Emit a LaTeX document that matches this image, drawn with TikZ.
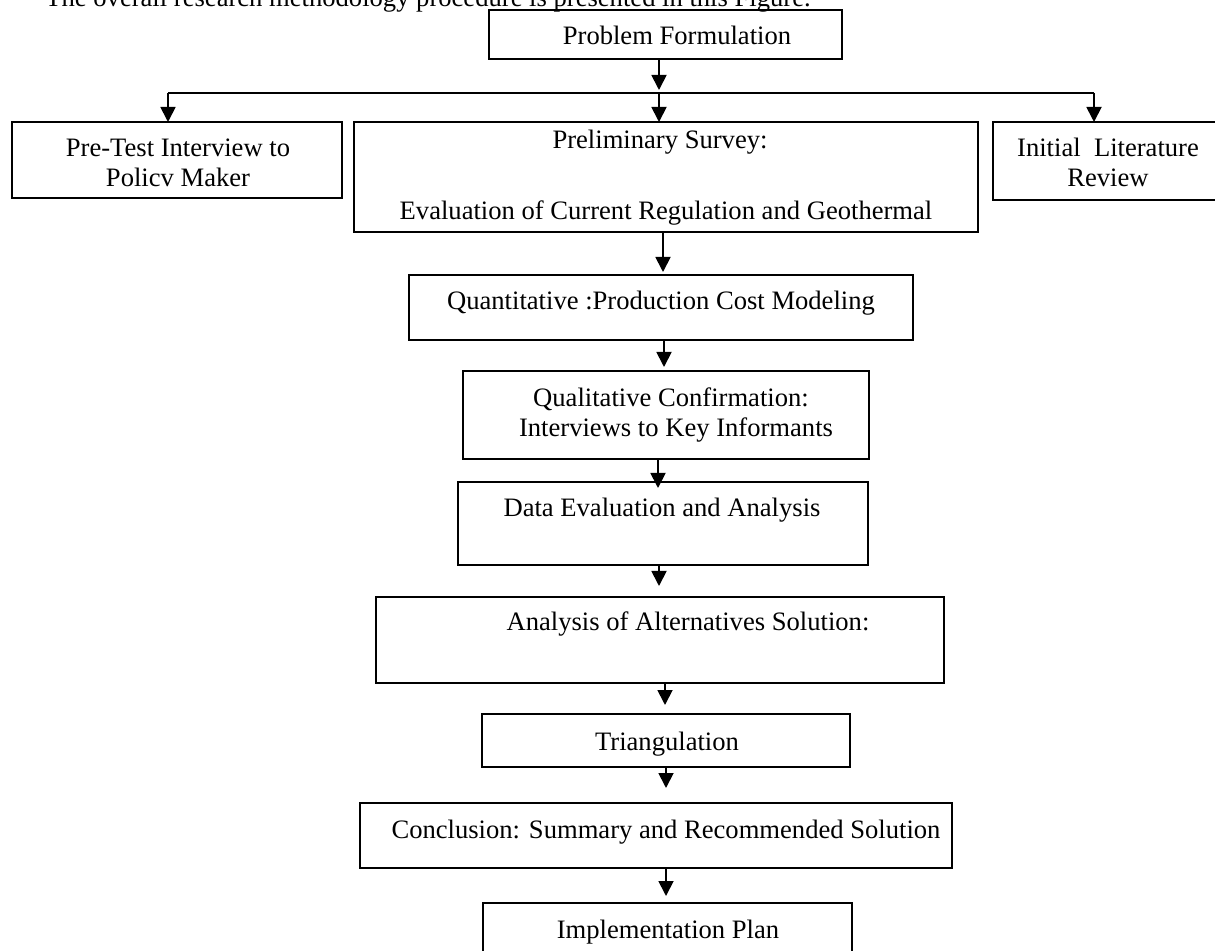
\documentclass[tikz,border=0pt]{standalone}
\usepackage{fontspec}
\setmainfont{Liberation Serif}
\usetikzlibrary{arrows.meta}

% box given by its corners (x1,y1) and (x2,y2), y measured downwards
\newcommand\flowbox[5]{%
  \node[box, minimum width={(#4-#2)*0.5pt}, minimum height={(#5-#3)*0.5pt}]
    (#1) at ({(#2+#4)/2},{(#3+#5)/2}) {};}

\begin{document}
\begin{tikzpicture}[x=0.5pt,y=-0.5pt,
  box/.style={draw, line width=0.9pt, rectangle, inner sep=0pt, outer sep=0pt},
  lbl/.style={anchor=base, inner sep=0pt, font=\fontsize{13.3}{15}\selectfont},
  link/.style={line width=0.9pt},
  arr/.style={link, -{Triangle[length=7.5pt,width=7.5pt]}}]
\useasboundingbox (0,0) rectangle (1215,951);
\clip (0,0) rectangle (1215,951);

% heading line above the chart
\node[lbl, anchor=base west] (title) at (45,7)
  {The overall research methodology procedure is presented in this Figure.};

% boxes
\flowbox{prob}{489}{10}{842}{59}
\flowbox{pretest}{12}{122}{342}{198}
\flowbox{prelim}{354}{122}{978}{232}
\flowbox{initial}{993}{122}{1222}{200}
\flowbox{quant}{409}{275}{913}{340}
\flowbox{qual}{463}{371}{869}{459}
\flowbox{data}{458}{482}{868}{565}
\flowbox{anal}{376}{597}{944}{683}
\flowbox{tri}{482}{714}{850}{767}
\flowbox{concl}{360}{803}{952}{868}
\flowbox{impl}{483}{903}{852}{960}

% box texts
\node[lbl] (tprob) at (677,45) {Problem Formulation};
\node[lbl] (tpre1) at (178,157) {Pre-Test Interview to};
\node[lbl] (tpre2) at (178,187) {Policv Maker};
\node[lbl] (tprel1) at (660,149) {Preliminary Survey:};
\node[lbl] (tprel2) at (666,220) {Evaluation of Current Regulation and Geothermal};
\node[lbl] (tini1) at (1108,157) {Initial\ \ Literature};
\node[lbl] (tini2) at (1108,187) {Review};
\node[lbl] (tquant) at (661,310) {Quantitative :Production Cost Modeling};
\node[lbl] (tqual1) at (671,407) {Qualitative Confirmation:};
\node[lbl] (tqual2) at (676,437) {Interviews to Key Informants};
\node[lbl] (tdata) at (662,517) {Data Evaluation and Analysis};
\node[lbl] (tanal) at (688,631) {Analysis of Alternatives Solution:};
\node[lbl] (ttri) at (667,750) {Triangulation};
\node[lbl] (tconcl) at (666,838) {Conclusion: Summary and Recommended Solution};
\node[lbl] (timpl) at (668,938) {Implementation Plan};

% branching below the first step
\coordinate (split) at (659,93);
\coordinate (splitL) at (168,93);
\coordinate (splitR) at (1094,93);
\draw[arr, shorten >=1.5pt] (prob.south -| split) -- (split);
\draw[link] (splitL) -- (splitR);
\draw[arr] (splitL) -- (pretest.north -| splitL);
\draw[arr] (split) -- (prelim.north -| split);
\draw[arr] (splitR) -- (initial.north -| splitR);

% main sequence
\draw[arr, shorten >=1.5pt] (prelim.south -| 663,0) -- (quant.north -| 663,0);
\draw[arr, shorten >=2pt] (quant.south -| 664,0) -- (qual.north -| 664,0);
\draw[arr, shorten >=-3pt] (qual.south -| 658,0) -- (data.north -| 658,0);
\draw[arr, shorten >=5.5pt] (data.south -| 659,0) -- (anal.north -| 659,0);
\draw[arr, shorten >=4.5pt] (anal.south -| 665,0) -- (tri.north -| 665,0);
\draw[arr, shorten >=7.5pt] (tri.south -| 666,0) -- (concl.north -| 666,0);
\draw[arr, shorten >=3.5pt] (concl.south -| 666,0) -- (impl.north -| 666,0);
\end{tikzpicture}
\end{document}
